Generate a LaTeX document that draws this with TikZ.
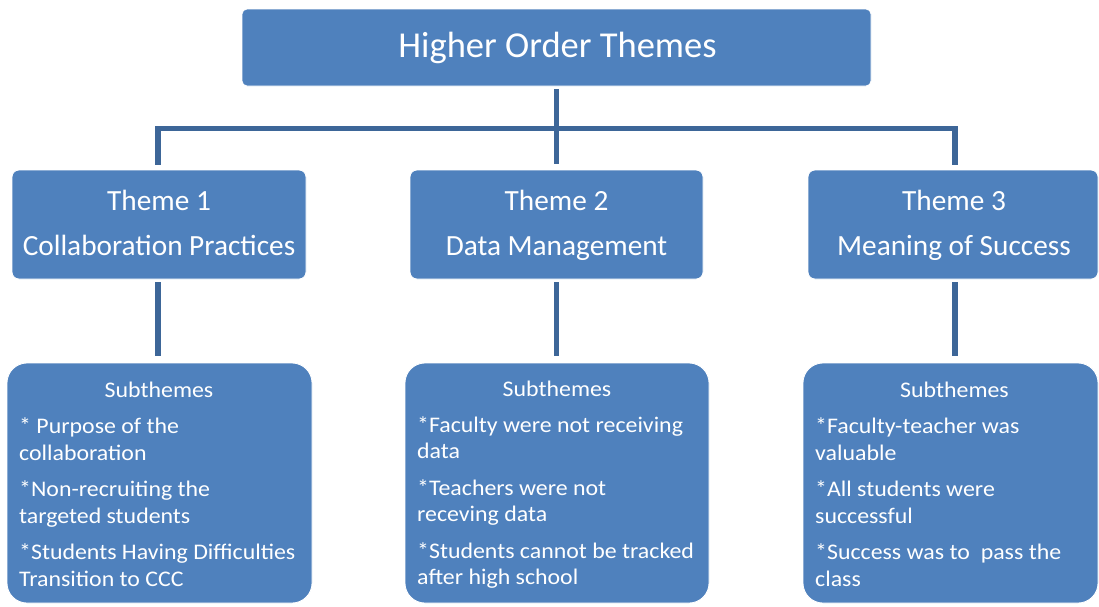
\documentclass[tikz,border=0pt]{standalone}
\usepackage{fontspec}
\setmainfont{Carlito}
\newfontfamily\subfont{Carlito}[FakeStretch=1.07]
\definecolor{boxblue}{RGB}{79,129,189}
\definecolor{linkblue}{RGB}{61,102,152}
\begin{document}
\begin{tikzpicture}[x=1pt,y=-1pt,
  box/.style={fill=boxblue,draw=white,line width=0.8pt,inner sep=0pt},
  topbox/.style={box,rounded corners=5pt,minimum width=629pt,minimum height=77pt},
  themebox/.style={box,rounded corners=7pt,minimum height=109pt},
  subbox/.style={box,rounded corners=20pt,minimum height=240pt},
  conn/.style={draw=linkblue,line width=5.5pt},
  wtext/.style={text=white,inner sep=0pt},
  themetext/.style={wtext,align=center,anchor=north,font=\fontsize{29.3}{45.5}\selectfont},
  subhead/.style={wtext,anchor=base,font=\subfont\fontsize{22.3}{26.5}\selectfont},
  subtext/.style={wtext,align=left,anchor=north west,font=\subfont\fontsize{22.3}{26.5}\selectfont}]
\useasboundingbox (0,0) rectangle (1099,606);

% boxes
\node[topbox] (top) at (556.5,47.5) {};
\node[themebox,minimum width=294pt] (t1) at (159,224.5) {};
\node[themebox,minimum width=293pt] (t2) at (556.5,224.5) {};
\node[themebox,minimum width=290pt] (t3) at (953,224.5) {};
\node[subbox,minimum width=305pt] (s1) at (159.5,483) {};
\node[subbox,minimum width=304pt] (s2) at (557,483) {};
\node[subbox,minimum width=295pt] (s3) at (950.5,483) {};

% connectors
\coordinate (hl) at (158,128.5);
\coordinate (hr) at (955,128.5);
\draw[conn,shorten <=3pt,shorten >=6pt] (top.south) -- (t2.north);
\draw[conn,shorten <=5pt,shorten >=5pt] (hl |- t1.north) -- (hl) -- (hr) -- (hr |- t3.north);
\draw[conn,shorten <=3pt,shorten >=7pt] (hl |- t1.south) -- (hl |- s1.north);
\draw[conn,shorten <=3pt,shorten >=7pt] (t2.south) -- (t2.south |- s2.north);
\draw[conn,shorten <=3pt,shorten >=7pt] (hr |- t3.south) -- (hr |- s3.north);

% texts
\node[wtext,anchor=base,font=\fontsize{36.5}{42}\selectfont] (toptext) at (557.5,57.5) {Higher Order Themes};
\node[themetext] (t1text) at (159,178.2) {\strut Theme 1\\Collaboration Practices};
\node[themetext] (t2text) at (556.5,178.2) {\strut Theme 2\\Data Management};
\node[themetext] (t3text) at (954,178.2) {\strut Theme 3\\Meaning of Success};

\node[subhead] (s1head) at (159,397.5) {Subthemes};
\node[subhead] (s2head) at (557,396) {Subthemes};
\node[subhead] (s3head) at (954.5,397) {Subthemes};

\node[subtext] (s1text) at (19,415) {\strut * Purpose of the\\collaboration\\[10pt]*Non-recruiting the\\targeted students\\[10pt]*Students Having Difficulties\\Transition to CCC};
\node[subtext] (s2text) at (417,413.5) {\strut *Faculty were not receiving\\data\\[10pt]*Teachers were not\\receving data\\[10pt]*Students cannot be tracked\\after high school};
\node[subtext] (s3text) at (815,415) {\strut *Faculty-teacher was\\valuable\\[10pt]*All students were\\successful\\[10pt]*Success was to\ \ pass the\\class};
\end{tikzpicture}
\end{document}
